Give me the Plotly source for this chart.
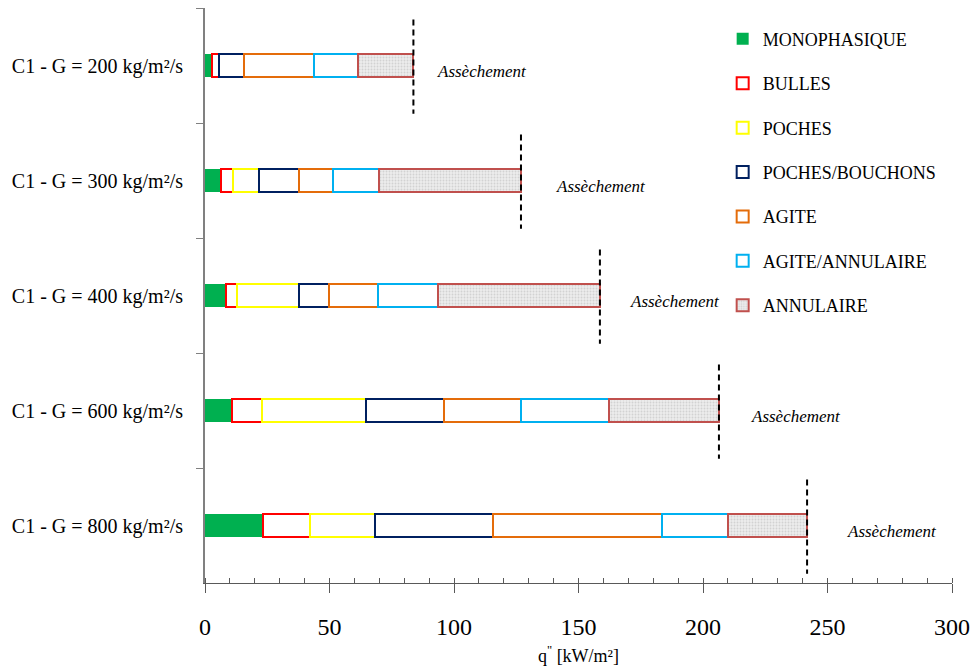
import plotly.graph_objects as go

# ---------------- data ----------------
categories = ["C1 - G = 200 kg/m²/s", "C1 - G = 300 kg/m²/s", "C1 - G = 400 kg/m²/s",
              "C1 - G = 600 kg/m²/s", "C1 - G = 800 kg/m²/s"]

monophasique = [2.9, 6.4, 8.4, 10.9, 23.3]
bulles = [2.7, 4.7, 4.6, 11.8, 18.7]
poches = [None, 10.6, 24.9, 42.1, 26.2]
poches_bouchons = [10.1, 16.1, 11.8, 31.2, 47.6]
agite = [28.1, 13.5, 19.9, 31.1, 67.8]
agite_annulaire = [17.8, 18.6, 24.1, 35.1, 26.4]
annulaire = [22.1, 57.0, 64.9, 44.2, 31.8]

regime_names = ["MONOPHASIQUE", "BULLES", "POCHES", "POCHES/BOUCHONS", "AGITE",
                "AGITE/ANNULAIRE", "ANNULAIRE"]
dryout_label = "Assèchement"
x_ticks = [0, 50, 100, 150, 200, 250, 300]

# ---------------- styles ----------------
SERIF = "Liberation Serif, Times New Roman, serif"
series = [monophasique, bulles, poches, poches_bouchons, agite, agite_annulaire, annulaire]
line_colors = ["#00B050", "#FF0000", "#FFFF00", "#002060", "#E46C0A", "#00B0F0", "#C0504D"]

fig = go.Figure()
for i, (name, vals, lc) in enumerate(zip(regime_names, series, line_colors)):
    if i == 0:
        marker = dict(color=lc, line=dict(color=lc, width=0))
    elif name == "ANNULAIRE":
        marker = dict(color="#ececec", line=dict(color=lc, width=2),
                      pattern=dict(shape=".", fillmode="replace", bgcolor="#ededed",
                                   fgcolor="#d2d2d2", size=3, solidity=0.3))
    else:
        marker = dict(color="white", line=dict(color=lc, width=2))
    fig.add_trace(go.Bar(
        y=categories, x=vals, name=name, orientation="h", width=0.2,
        marker=marker, legendgroup=name, hoverinfo="x+name",
    ))

# dryout dashed lines + labels
label_gap_px = [22, 33, 28, 30, 38]
for j, cat in enumerate(categories):
    total = sum(s[j] for s in series if s[j] is not None)
    fig.add_shape(type="line", xref="x", yref="y", x0=total, x1=total,
                  y0=j - 0.4, y1=j + 0.42,
                  line=dict(color="black", width=2, dash="6px,4px"))
    fig.add_annotation(x=total, y=j, xref="x", yref="y", text=dryout_label,
                       showarrow=False, xanchor="left", yanchor="middle",
                       xshift=label_gap_px[j], yshift=-6,
                       font=dict(family=SERIF, size=17, color="black", style="italic"))

fig.update_layout(
    width=970, height=670,
    margin=dict(l=205, r=18, t=8, b=87, autoexpand=False),
    paper_bgcolor="white", plot_bgcolor="white",
    barmode="stack", bargap=0.8,
    showlegend=True,
    legend=dict(x=0.693, y=0.978, xanchor="left", yanchor="top",
                font=dict(family=SERIF, size=18, color="black"),
                traceorder="grouped", tracegroupgap=18, itemwidth=30,
                bgcolor="rgba(0,0,0,0)"),
    font=dict(family=SERIF, color="black"),
)

fig.update_xaxes(
    range=[0, 300], tickvals=x_ticks, ticks="outside", ticklen=9, tickcolor="#595959",
    showline=True, linecolor="#595959", linewidth=1, showgrid=False, zeroline=False,
    automargin=False,
    tickfont=dict(family=SERIF, size=24, color="black"), ticklabelstandoff=13,
    minor=dict(dtick=10, ticks="inside", ticklen=5, tickcolor="#595959", showgrid=False),
    title=dict(text='q<sup>"</sup> [kW/m²]', font=dict(family=SERIF, size=18, color="black"),
               standoff=10),
)
fig.update_yaxes(
    categoryorder="array", categoryarray=categories, autorange="reversed",
    ticks="outside", ticklen=7, tickcolor="#808080", tickson="boundaries",
    showline=True, linecolor="#808080", linewidth=2, showgrid=False, zeroline=False,
    automargin=False,
    tickfont=dict(family=SERIF, size=20, color="black"), ticklabelstandoff=16,
)

fig.write_html("out.html", config={"displayModeBar": False},
               post_script="document.body.style.margin='0';document.body.style.padding='0';")
